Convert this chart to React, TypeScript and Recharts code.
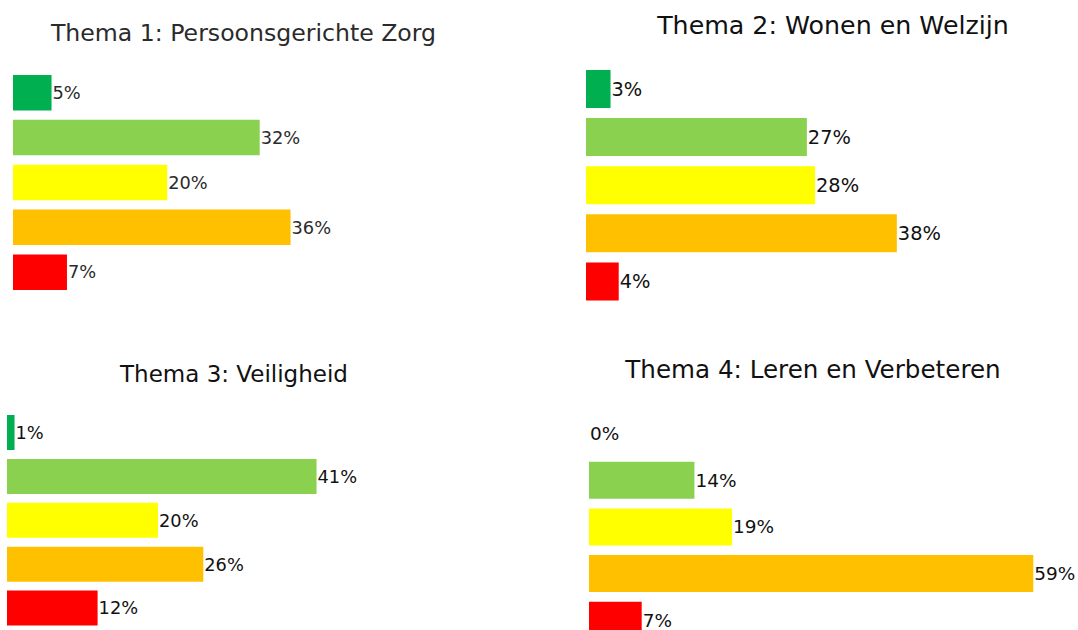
import { BarChart, Bar, XAxis, YAxis, Cell, LabelList } from "recharts"

const categories = ["Groen", "Lichtgroen", "Geel", "Oranje", "Rood"]
const colors = ["#00b050", "#89d14f", "#ffff00", "#ffc000", "#ff0000"]

const thema1 = [5, 32, 20, 36, 7]
const thema2 = [3, 27, 28, 38, 4]
const thema3 = [1, 41, 20, 26, 12]
const thema4 = [0, 14, 19, 59, 7]

const titles = [
  "Thema 1: Persoonsgerichte Zorg",
  "Thema 2: Wonen en Welzijn",
  "Thema 3: Veiligheid",
  "Thema 4: Leren en Verbeteren",
]

interface PanelProps {
  title: string
  values: number[]
  x0: number
  pxPer: number
  firstCenter: number
  pitch: number
  barH: number
  max: number
  labelSize: number
  titleSize: number
  titleX: number
  titleBaseline: number
  textColor: string
}

function Panel(p: PanelProps) {
  const data = categories.map((name, i) => ({ name, value: p.values[i] }))
  const right = 60
  const width = p.max * p.pxPer + right
  const height = p.pitch * categories.length

  return (
    <>
      <div
        style={{
          position: "absolute",
          left: p.titleX - 300,
          top: p.titleBaseline - 0.846 * p.titleSize,
          width: 600,
          textAlign: "center",
          fontSize: p.titleSize,
          lineHeight: 1,
          color: p.textColor,
          whiteSpace: "nowrap",
        }}
      >
        {p.title}
      </div>
      <div style={{ position: "absolute", left: p.x0, top: p.firstCenter - p.pitch / 2 }}>
        <BarChart
          width={width}
          height={height}
          data={data}
          layout="vertical"
          margin={{ top: 0, right, bottom: 0, left: 0 }}
        >
          <XAxis type="number" domain={[0, p.max]} allowDataOverflow hide />
          <YAxis type="category" dataKey="name" hide />
          <Bar dataKey="value" barSize={p.barH} minPointSize={0.01} isAnimationActive={false}>
            {data.map((d, i) => (
              <Cell key={d.name} fill={colors[i]} />
            ))}
            <LabelList
              dataKey="value"
              position="right"
              offset={1}
              formatter={(v: number) => `${v}%`}
              fill={p.textColor}
              fontSize={p.labelSize}
            />
          </Bar>
        </BarChart>
      </div>
    </>
  )
}

export default function App() {
  return (
    <div
      style={{
        position: "absolute",
        left: 0,
        top: 0,
        width: 1078,
        height: 630,
        overflow: "hidden",
        background: "#fff",
        fontFamily: "'DejaVu Sans', sans-serif",
      }}
    >
      <Panel
        title={titles[0]}
        values={thema1}
        x0={12.7}
        pxPer={7.71}
        firstCenter={92.2}
        pitch={44.85}
        barH={35.5}
        max={40}
        labelSize={17.8}
        titleSize={23.6}
        titleX={243.5}
        titleBaseline={42}
        textColor="#2b2b2b"
      />
      <Panel
        title={titles[1]}
        values={thema2}
        x0={586}
        pxPer={8.18}
        firstCenter={89.3}
        pitch={48.1}
        barH={38}
        max={40}
        labelSize={19.4}
        titleSize={25.3}
        titleX={833}
        titleBaseline={34}
        textColor="#111"
      />
      <Panel
        title={titles[2]}
        values={thema3}
        x0={7.3}
        pxPer={7.55}
        firstCenter={432.7}
        pitch={43.9}
        barH={35}
        max={45}
        labelSize={17.8}
        titleSize={23}
        titleX={234}
        titleBaseline={382}
        textColor="#111"
      />
      <Panel
        title={titles[3]}
        values={thema4}
        x0={589}
        pxPer={7.53}
        firstCenter={433.1}
        pitch={46.7}
        barH={37}
        max={60}
        labelSize={18.5}
        titleSize={24.6}
        titleX={813}
        titleBaseline={379}
        textColor="#111"
      />
    </div>
  )
}
